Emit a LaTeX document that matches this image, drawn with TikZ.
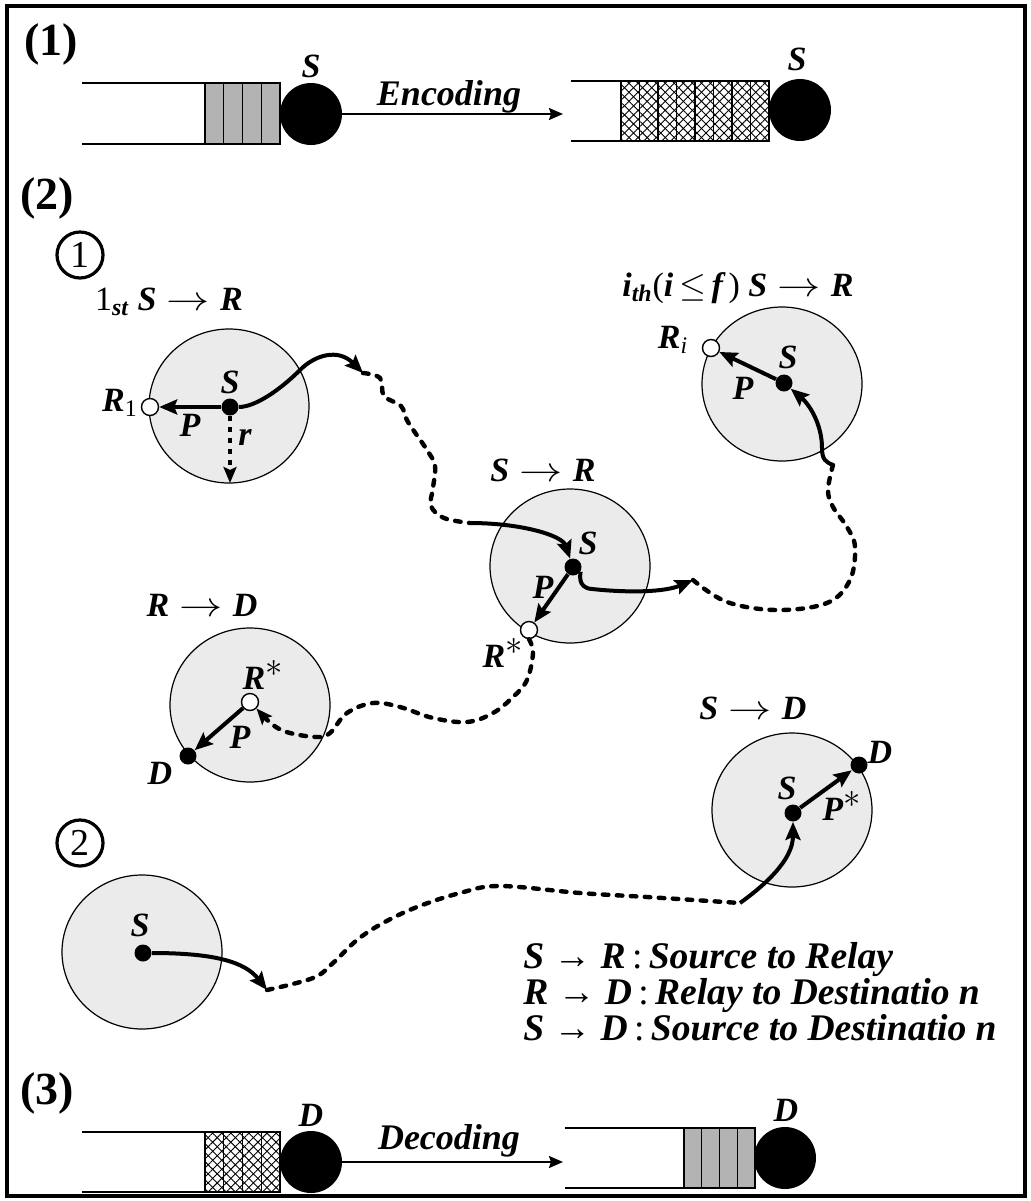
\documentclass[tikz,border=0pt]{standalone}
\usepackage{fontspec}
\setmainfont{Liberation Serif}
\usepackage{graphicx}
\usepackage{tikz}
\usetikzlibrary{arrows.meta,positioning,calc,patterns.meta}

\definecolor{zonegray}{RGB}{235,235,235}
\definecolor{cellgray}{RGB}{179,179,179}

\newcommand{\tto}{\hspace{0.3em}\scalebox{1.25}[1]{$\rightarrow$}\hspace{0.3em}}
\newcommand{\lto}{\hspace{0.25em}{\mdseries\upshape →}\hspace{0.25em}}
\newcommand{\st}{$^{\displaystyle\ast}$}

\tikzset{
  rangezone/.style={draw, line width=0.6pt, fill=zonegray},
  sdot/.style={circle, fill=black, inner sep=0pt, minimum size=8.5pt},
  hdot/.style={circle, draw, line width=0.7pt, fill=white, inner sep=0pt, minimum size=8.5pt},
  qnode/.style={circle, fill=black, inner sep=0pt, minimum size=31pt},
  lbl/.style={font=\fontsize{17}{19}\selectfont\bfseries\itshape, inner sep=0pt},
  legtext/.style={font=\fontsize{18.8}{18}\selectfont\bfseries\itshape, inner sep=0pt,
    anchor=north west, align=left},
  seclbl/.style={font=\fontsize{23}{25}\selectfont\bfseries, inner sep=0pt},
  stepnum/.style={circle, draw, line width=1.6pt, minimum size=23pt, inner sep=0pt, font=\fontsize{19}{20}\selectfont},
  hop/.style={line width=2pt, -{Stealth[length=9pt,width=7.5pt,inset=1.5pt]}},
  trail/.style={line width=2.2pt, dash pattern=on 2.8pt off 4.2pt, line cap=round},
  rdash/.style={line width=1.7pt, dash pattern=on 2.5pt off 3pt, -{Stealth[length=8pt,width=6.5pt,inset=1.5pt]}},
  qline/.style={line width=0.7pt},
  graycell/.style={draw, line width=0.7pt, fill=cellgray},
  hatchcell/.style={pattern={Lines[angle=45,distance=3.2pt,line width=0.45pt]},
    postaction={pattern={Lines[angle=-45,distance=3.2pt,line width=0.45pt]}},
    postaction={draw, line width=0.7pt}},
  codearrow/.style={line width=1pt, -{Stealth[length=7pt,width=6pt,inset=1pt]}},
}

\begin{document}
\begin{tikzpicture}[x=0.5pt,y=-0.5pt]
\useasboundingbox (0,0) rectangle (1031,1201);
\draw[line width=2pt] (7,6) rectangle (1025,1196);

% (1) encoding at the source
\node[seclbl] (sec1) at (51,44) {(1)};
\draw[qline] (82,83) -- (205,83) (82,144) -- (205,144);
\foreach \i in {0,...,3}
  \draw[graycell] ({205+18.75*\i},83) rectangle ++(18.75,61);
\node[qnode] (qs1) at (311,114) {};
\node[lbl] (qs1l) at (311,66) {S};
\draw[qline] (571,81) -- (621,81) (571,141) -- (621,141);
\foreach \i in {0,...,7}
  \draw[hatchcell] ({621+18.5*\i},81) rectangle ++(18.5,60);
\node[qnode] (qs2) at (800,110) {};
\node[lbl] (qs2l) at (797,59) {S};
\coordinate (encend) at (563,114);
\draw[codearrow] (qs1) -- (encend);
\node[lbl, font=\fontsize{18}{20}\selectfont\bfseries\itshape] (enc) at (449,97) {Encoding};

% (2) forwarding
\node[seclbl] (sec2) at (47,198) {(2)};
\node[stepnum] (n1) at (80,255) {1};
\node[stepnum] (n2) at (80,843) {2};

% transmission ranges
\foreach \cx/\cy in {229/406, 570/566, 782/384, 250/705, 142/952, 792/810}
  \draw[rangezone] (\cx,\cy) ellipse [x radius=80, y radius=77];

% titles
\node[lbl] (t1) at (169,302) {{\mdseries\upshape 1}\textsubscript{st} S\tto R};
\node[lbl] (t2) at (543,470) {S\tto R};
\node[lbl] (t3) at (738,288) {i\textsubscript{th}{\mdseries\upshape (}i\,$\leq$\,f\,{\mdseries\upshape )} S\tto R};
\node[lbl] (t4) at (202,605) {R\tto D};
\node[lbl] (t5) at (753,708) {S\tto D};

% nodes
\node[sdot] (sA) at (230,407) {};
\node[hdot] (r1) at (150,407) {};
\node[sdot] (sB) at (573,567) {};
\node[hdot] (rS) at (529,630) {};
\node[sdot] (sC) at (784,383) {};
\node[hdot] (ri) at (711,348) {};
\node[hdot] (rD) at (250,702) {};
\node[sdot] (dD) at (188,756) {};
\node[sdot] (sF) at (143,953) {};
\node[sdot] (sE) at (793,813) {};
\node[sdot] (dE) at (859,765) {};

\coordinate (w1) at (363,373);
\coordinate (w2) at (470,523);
\coordinate (w3) at (693,580);
\coordinate (w4) at (833,465);
\coordinate (w5) at (267,990);
\coordinate (w6) at (740,903);
\coordinate (rend) at (230,483);

% first hop
\draw[hop] (sA) -- (r1);
\draw[rdash] (sA) -- (rend);
\draw[hop] (sA) .. controls (255,407) and (280,390) .. (300,370)
  .. controls (315,355) and (338,348) .. (w1);
\draw[trail] plot[smooth, tension=0.6] coordinates {(w1) (380,378) (384,396) (401,406)
  (408,422) (427,450) (435,466) (433,488) (431,506) (444,518) (w2)};
\draw[hop] (w2) .. controls (520,523) and (562,535) .. (sB);
\draw[hop] (sB) -- (rS);
\draw[hop] (sB) .. controls (581,572) and (576,588) .. (592,589)
  .. controls (630,593) and (665,592) .. (w3);
\draw[trail] plot[smooth, tension=0.6] coordinates {(w3) (727,602) (777,610) (827,603)
  (850,580) (855,547) (847,527) (833,507) (828,490) (w4)};
\draw[hop] (w4) .. controls (826,462) and (822,460) .. (822,448)
  .. controls (822,425) and (810,405) .. (sC);
\draw[hop] (sC) -- (ri);

% relay to destination
\draw[trail, -{Stealth[length=8pt,width=6.5pt,inset=1.5pt]}] plot[smooth, tension=0.6]
  coordinates {(rS.south) (533,653) (527,680) (513,697) (493,713) (467,722) (433,718)
  (400,707) (373,703) (347,713) (330,733) (317,737) (290,733) (273,725) (rD.-45)};
\draw[hop] (rD) -- (dD);

% direct
\draw[hop] (sF) .. controls (215,953) and (245,962) .. (w5);
\draw[trail] plot[smooth, tension=0.6] coordinates {(w5) (313,978) (333,963) (357,940)
  (383,923) (417,907) (460,893) (500,886) (580,893) (647,897) (w6)};
\draw[hop] (w6) .. controls (765,885) and (793,860) .. (sE);
\draw[hop] (sE) -- (dE);

% labels
\node[lbl] (sAl) at (230,382) {S};
\node[lbl] (r1l) at (120,403) {R\textsubscript{\mdseries\upshape 1}};
\node[lbl] (pAl) at (190,425) {P};
\node[lbl] (rl) at (245,437) {r};
\node[lbl] (sBl) at (588,543) {S};
\node[lbl] (pBl) at (543,587) {P};
\node[lbl] (rSl) at (503,653) {R\st};
\node[lbl] (sCl) at (788,357) {S};
\node[lbl] (pCl) at (743,388) {P};
\node[lbl] (ril) at (673,340) {R\textsubscript{\mdseries i}};
\node[lbl] (rDl) at (263,675) {R\st};
\node[lbl] (dDl) at (160,773) {D};
\node[lbl] (pDl) at (240,737) {P};
\node[lbl] (sFl) at (140,925) {S};
\node[lbl] (sEl) at (787,788) {S};
\node[lbl] (dEl) at (880,752) {D};
\node[lbl] (pEl) at (842,806) {P\st};

% legend
\node[legtext] (legend) at (523,942) {S\lto R\,{\mdseries\upshape :}\,Source to Relay\\
  R\lto D\,{\mdseries\upshape :}\,Relay to Destinatio n\\
  S\lto D\,{\mdseries\upshape :}\,Source to Destinatio n};

% (3) decoding at the destination
\node[seclbl] (sec3) at (47,1093) {(3)};
\draw[qline] (82,1132) -- (205,1132) (82,1192) -- (205,1192);
\foreach \i in {0,...,3}
  \draw[hatchcell] ({205+18.75*\i},1132) rectangle ++(18.75,60);
\node[qnode] (qd1) at (311,1162) {};
\node[lbl] (qd1l) at (311,1115) {D};
\coordinate (decend) at (563,1162);
\draw[codearrow] (qd1) -- (decend);
\node[lbl, font=\fontsize{18}{20}\selectfont\bfseries\itshape] (dec) at (449,1141) {Decoding};
\draw[qline] (565,1128) -- (684,1128) (565,1188) -- (684,1188);
\foreach \i in {0,...,3}
  \draw[graycell] ({684+17.75*\i},1128) rectangle ++(17.75,60);
\node[qnode] (qd2) at (785,1158) {};
\node[lbl] (qd2l) at (786,1110) {D};
\end{tikzpicture}
\end{document}
